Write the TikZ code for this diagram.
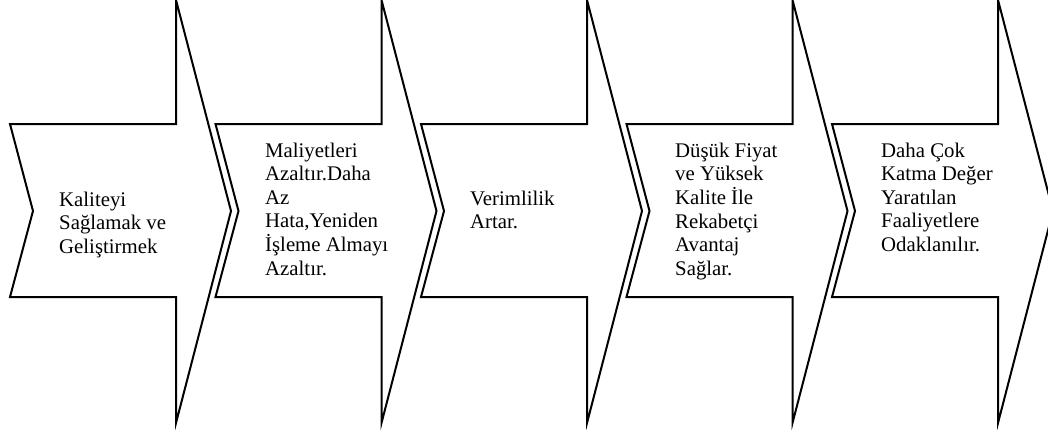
\documentclass[tikz,border=0pt]{standalone}
\usepackage{fontspec}
\setmainfont{Liberation Serif}
\begin{document}
\begin{tikzpicture}[x=1pt,y=-1pt,
  chev/.style={draw=black,line width=2pt,fill=white,line join=miter},
  lbl/.style={anchor=base west,inner sep=0pt,font=\fontsize{20.8}{23.5}\selectfont}]
\useasboundingbox (0,0) rectangle (1048,429);
\clip (0,0) rectangle (1048,429);
\foreach \i/\L in {1/10,2/215.5,3/421,4/626.5,5/832}{
  \draw[chev] (\L,124) -- (\L+166,124) -- (\L+166,0) -- (\L+221,211)
    -- (\L+166,423) -- (\L+166,297) -- (\L,297) -- (\L+23,211) -- cycle;
  \coordinate (t\i) at (\L+49,0);
}
\renewcommand{\arraystretch}{1}
\node[lbl] (l1) at (59,206) {\begin{tabular}[t]{@{}l@{}}Kaliteyi\\Sağlamak ve\\Geliştirmek\end{tabular}};
\node[lbl] (l2) at (265,157) {\begin{tabular}[t]{@{}l@{}}Maliyetleri\\Azaltır.Daha\\Az\\Hata,Yeniden\\İşleme Almayı\\Azaltır.\end{tabular}};
\node[lbl] (l3) at (470,205) {\begin{tabular}[t]{@{}l@{}}Verimlilik\\Artar.\end{tabular}};
\node[lbl] (l4) at (675,157) {\begin{tabular}[t]{@{}l@{}}Düşük Fiyat\\ve Yüksek\\Kalite İle\\Rekabetçi\\Avantaj\\Sağlar.\end{tabular}};
\node[lbl] (l5) at (881,157) {\begin{tabular}[t]{@{}l@{}}Daha Çok\\Katma Değer\\Yaratılan\\Faaliyetlere\\Odaklanılır.\end{tabular}};
\end{tikzpicture}
\end{document}
